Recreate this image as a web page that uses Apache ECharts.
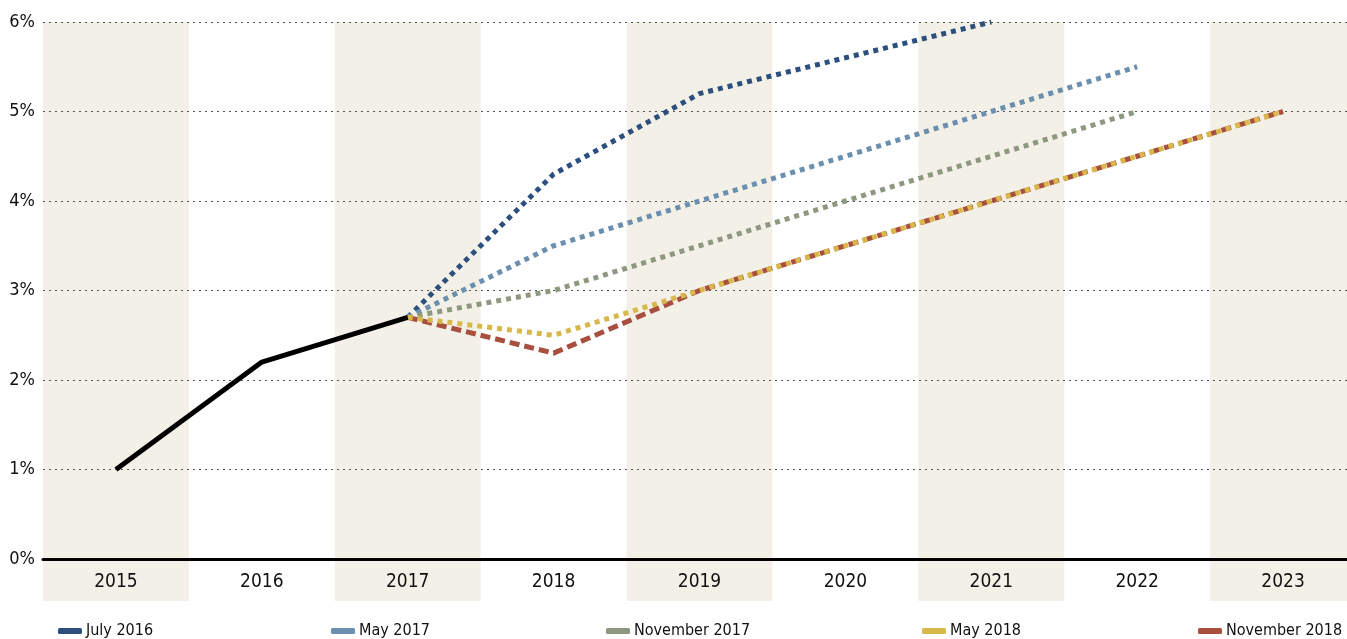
<!DOCTYPE html>
<html>
<head>
<meta charset="utf-8">
<script src="https://cdn.jsdelivr.net/npm/echarts@6/dist/echarts.min.js"></script>
<style>
  html, body { margin: 0; padding: 0; background: #fff; }
  #chart { width: 1347px; height: 639px; }
</style>
</head>
<body>
<div id="chart"></div>
<script>
// Policy-rate path: realised values and successive projections (%)
const years = ['2015', '2016', '2017', '2018', '2019', '2020', '2021', '2022', '2023'];
const actual      = [1.0, 2.2, 2.7, null, null, null, null, null, null];
const july2016    = [null, null, 2.7, 4.3, 5.2, 5.6, 6.0, null, null];
const may2017     = [null, null, 2.7, 3.5, 4.0, 4.5, 5.0, 5.5, null];
const nov2017     = [null, null, 2.7, 3.0, 3.5, 4.0, 4.5, 5.0, null];
const may2018     = [null, null, 2.7, 2.5, 3.0, 3.5, 4.0, 4.5, 5.0];
const nov2018     = [null, null, 2.7, 2.3, 3.0, 3.5, 4.0, 4.5, 5.0];
const yTicks = [0, 1, 2, 3, 4, 5, 6];

const projections = [
  { name: 'July 2016',     data: july2016, color: '#2d4f7e', dash: [5, 5] },
  { name: 'May 2017',      data: may2017,  color: '#6b8fae', dash: [5, 5] },
  { name: 'November 2017', data: nov2017,  color: '#8e9880', dash: [5, 5] },
  { name: 'November 2018', data: nov2018,  color: '#a84f40', dash: [10, 5] },
  { name: 'May 2018',      data: may2018,  color: '#d9b84b', dash: [5, 5] }
];
const legendOrder = ['July 2016', 'May 2017', 'November 2017', 'May 2018', 'November 2018'];
const legendLeft = [58, 331, 606, 922, 1198];

const FONT = '"DejaVu Sans Condensed", Roboto, sans-serif';
const GRID_LEFT = 43, GRID_RIGHT = -9;
const chart = echarts.init(document.getElementById('chart'));

const option = {
  animation: false,
  grid: [
    // background bands reaching below the axis under the year labels
    { left: GRID_LEFT, right: GRID_RIGHT, top: 22, bottom: 38, outerBoundsMode: 'none', containLabel: false },
    // plotting area
    { left: GRID_LEFT, right: GRID_RIGHT, top: 22, bottom: 80, outerBoundsMode: 'none', containLabel: false }
  ],
  xAxis: [
    {
      gridIndex: 0, type: 'category', data: years, boundaryGap: true, z: -1,
      axisLine: { show: false }, axisTick: { show: false }, axisLabel: { show: false },
      splitArea: { show: true, areaStyle: { color: ['#f3f0e7', 'rgba(255,255,255,0)'] } }
    },
    {
      gridIndex: 1, type: 'category', data: years, boundaryGap: true, z: 2,
      axisLine: { show: true, onZero: true, lineStyle: { color: '#000', width: 3 } },
      axisTick: { show: false },
      axisLabel: { margin: 14, fontFamily: FONT, fontSize: 19, color: '#111' }
    }
  ],
  yAxis: [
    { gridIndex: 0, type: 'value', min: 0, max: 1, show: false },
    {
      gridIndex: 1, type: 'value', min: yTicks[0], max: yTicks[yTicks.length - 1], interval: 1, z: 1,
      axisLine: { show: false }, axisTick: { show: false },
      axisLabel: { margin: 8, fontFamily: FONT, fontSize: 18, color: '#111',
                   formatter: v => v + '%' },
      splitLine: { show: true, lineStyle: { color: '#555', width: 1, type: [2, 4] } }
    }
  ],
  legend: legendOrder.map((name, i) => ({
    data: [name],
    left: legendLeft[i], top: 623, padding: 0,
    icon: 'roundRect', itemWidth: 24, itemHeight: 6, itemGap: 4,
    textStyle: { fontFamily: FONT, fontSize: 16, color: '#111', padding: [0, 0, 0, -1] }
  })),
  series: [
    {
      name: 'Actual', type: 'line', xAxisIndex: 1, yAxisIndex: 1, data: actual,
      symbol: 'none', z: 5,
      lineStyle: { color: '#000', width: 5 }, itemStyle: { color: '#000' }
    },
    ...projections.map((p, i) => ({
      name: p.name, type: 'line', xAxisIndex: 1, yAxisIndex: 1, data: p.data,
      symbol: 'none', z: 3 + i * 0.1,
      lineStyle: { color: p.color, width: 5, type: p.dash },
      itemStyle: { color: p.color }
    }))
  ]
};
chart.setOption(option);
</script>
</body>
</html>
